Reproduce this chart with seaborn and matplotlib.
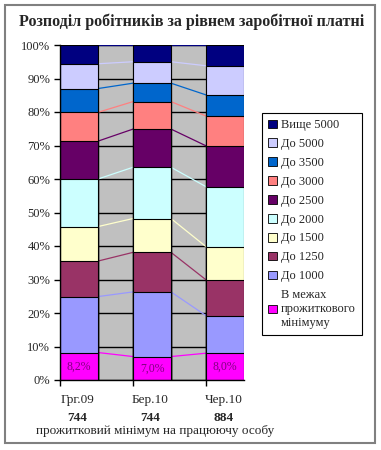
import numpy as np
import pandas as pd

import matplotlib
matplotlib.use('Agg')

from matplotlib import pyplot as plt
from matplotlib.patches import Rectangle, Patch
import seaborn as sns

# --------------------------- data ---------------------------------------------
periods = ["Грг.09", "Бер.10", "Чер.10"]
min_wage = ["744", "744", "884"]
series_names = ["В межах\nпрожиткового\nмінімуму", "До 1000", "До 1250", "До 1500", "До 2000",
                "До 2500", "До 3000", "До 3500", "До 5000", "Вище 5000"]
# share of workers, % (bottom series first)
shares = {
    "Грг.09": [8.2, 16.7, 10.6, 10.3, 14.2, 11.3, 8.6, 7.1, 7.4, 5.6],
    "Бер.10": [7.0, 19.3, 11.8, 10.1, 15.3, 11.4, 8.2, 5.5, 6.4, 5.0],
    "Чер.10": [8.0, 11.2, 10.7, 9.9, 17.9, 12.2, 8.9, 6.3, 8.7, 6.2],
}
base_labels = ["8,2%", "7,0%", "8,0%"]
colors = ["#FF00FF", "#9999FF", "#993366", "#FFFFCC", "#CCFFFF",
          "#660066", "#FF8080", "#0066CC", "#CCCCFF", "#000080"]

sns.set_style("white")
plt.rcParams['font.family'] = ['Liberation Serif', 'DejaVu Serif']

df = pd.DataFrame(shares, index=series_names)
cum = df.cumsum()

fig = plt.figure(figsize=(3.81, 4.5), dpi=100)
ax = fig.add_axes([60 / 381, 1 - 380 / 450, 184 / 381, 335 / 450])
ax.set_facecolor("#C0C0C0")

bw = 0.52
# stacked bars: draw cumulative totals from the top series down
for i in range(len(series_names) - 1, -1, -1):
    sns.barplot(x=periods, y=cum.iloc[i].values, color=colors[i], width=bw,
                edgecolor="black", linewidth=0.8, saturation=1, ax=ax, zorder=3)

# series lines between bars
for i in range(len(series_names)):
    vals = cum.iloc[i].values
    for k in range(len(periods) - 1):
        ax.plot([k + bw / 2, k + 1 - bw / 2], [vals[k], vals[k + 1]],
                color=colors[i], lw=0.9, zorder=2)

for k, lab in enumerate(base_labels):
    ax.text(k, cum.iloc[0].values[k] / 2, lab, ha="center", va="center",
            fontsize=8.5, color="#800080", zorder=5)

ax.set_xlim(-bw / 2, 2 + bw / 2)
ax.set_ylim(0, 100)
ax.set_yticks(np.arange(0, 101, 10))
ax.set_yticklabels([f"{v}%" for v in range(0, 101, 10)], fontsize=9)
ax.yaxis.grid(True, color="black", lw=1)
ax.set_axisbelow(True)
ax.set_xticks([k - bw / 2 for k in range(len(periods))])
ax.set_xticklabels([])
ax.tick_params(axis="both", direction="out", length=4, width=1, color="black",
               left=True, bottom=True, pad=3)
for s in ["top", "right"]:
    ax.spines[s].set_visible(False)
for s in ["left", "bottom"]:
    ax.spines[s].set_color("black")
    ax.spines[s].set_linewidth(1)
    ax.spines[s].set_zorder(6)
ax.set_xlabel("")
ax.set_ylabel("")

# category labels below
for k in range(len(periods)):
    fig.text((77 + 73.5 * k) / 381, 1 - 400 / 450, periods[k], ha="center", va="center", fontsize=9.5)
    fig.text((77 + 73.5 * k) / 381, 1 - 418 / 450, min_wage[k], ha="center", va="center",
             fontsize=9.5, fontweight="bold")
fig.text(155 / 381, 1 - 431 / 450, "прожитковий мінімум на працюючу особу",
         ha="center", va="center", fontsize=9.5)

fig.text(192 / 381, 1 - 22 / 450, "Розподіл робітників за рівнем заробітної платні",
         ha="center", va="center", fontsize=11.5, fontweight="bold")

handles = [Patch(facecolor=colors[i], edgecolor="black", linewidth=0.6)
           for i in range(len(series_names) - 1, -1, -1)]
leg = fig.legend(handles, series_names[::-1], loc="upper left",
                 bbox_to_anchor=(262 / 381, 1 - 113 / 450), fontsize=9,
                 frameon=True, fancybox=False, edgecolor="black", framealpha=1,
                 handlelength=0.7, handleheight=0.7, handletextpad=0.3,
                 labelspacing=0.55, borderpad=0.5, borderaxespad=0)
leg.get_frame().set_linewidth(0.8)

fig.patches.append(Rectangle((5 / 381, 1 - 443 / 450), 370 / 381, 438 / 450,
                             transform=fig.transFigure, fill=False,
                             edgecolor="#808080", linewidth=1.5))

plt.savefig("out.png", dpi=100)
plt.close(fig)
